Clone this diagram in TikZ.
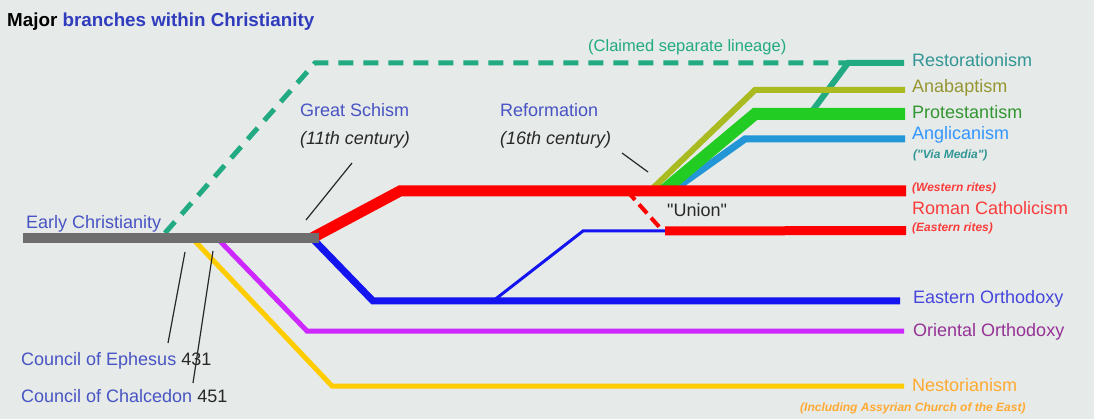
\documentclass[tikz,border=0pt]{standalone}
\usepackage{fontspec}
\setmainfont{Liberation Sans}[Ligatures=TeXOff]
\usepackage{tikz}
\usepackage{color}
\definecolor{bg}{RGB}{230,234,232}
\definecolor{txtblue}{RGB}{72,84,196}
\definecolor{ttlblue}{RGB}{48,60,190}
\definecolor{early}{RGB}{110,110,110}
\definecolor{rcred}{RGB}{255,0,0}
\definecolor{rclab}{RGB}{250,60,60}
\definecolor{eoblue}{RGB}{20,20,240}
\definecolor{eolab}{RGB}{70,70,220}
\definecolor{oopurp}{RGB}{204,40,255}
\definecolor{oolab}{RGB}{150,50,150}
\definecolor{nsyel}{RGB}{255,204,0}
\definecolor{nslab}{RGB}{255,170,50}
\definecolor{prgreen}{RGB}{34,204,34}
\definecolor{prlab}{RGB}{50,150,50}
\definecolor{anolive}{RGB}{170,187,34}
\definecolor{anlab}{RGB}{150,150,50}
\definecolor{agblue}{RGB}{34,150,215}
\definecolor{aglab}{RGB}{50,150,255}
\definecolor{rsgreen}{RGB}{34,170,130}
\definecolor{rslab}{RGB}{50,150,150}
\definecolor{pointer}{RGB}{40,40,40}

\begin{document}
\begin{tikzpicture}
[x=1pt,y=-1pt,line cap=butt,line join=miter,
 lab/.style={anchor=base west,inner sep=0pt,font=\fontsize{18}{20}\selectfont},
 note/.style={anchor=base west,inner sep=0pt,font=\fontsize{12}{14}\selectfont\bfseries\itshape},
 era/.style={anchor=base west,inner sep=0pt,font=\fontsize{18}{20}\selectfont\itshape,text=pointer},
 pointer/.style={draw=pointer,line width=1.2pt}]
\fill[bg] (0,0) rectangle (1094,419);
\useasboundingbox (0,0) rectangle (1094,419);

% title
\node[anchor=base west,inner sep=0pt,font=\fontsize{18.8}{21}\selectfont\bfseries] (title) at (7,27) {Major \textcolor{ttlblue}{branches within Christianity}};

% points of the branches
\coordinate (ec0) at (23,238); \coordinate (ec1) at (319,238);
\coordinate (ns0) at (192,238); \coordinate (ns1) at (332,386); \coordinate (ns2) at (904,386);
\coordinate (oo0) at (217,238); \coordinate (oo1) at (307,331); \coordinate (oo2) at (904,331);
\coordinate (gs0) at (312,238);
\coordinate (eo1) at (373,301); \coordinate (eo2) at (900,301);
\coordinate (un0) at (493,301); \coordinate (un1) at (583,231); \coordinate (un2) at (665,231);
\coordinate (wr1) at (400,191); \coordinate (wr2) at (906,191);
\coordinate (er1) at (906,230.5);
\coordinate (ud0) at (627,191); \coordinate (ud1) at (662,230);
\coordinate (an0) at (650,191); \coordinate (an1) at (755,90); \coordinate (an2) at (905,90);
\coordinate (pr0) at (663,191); \coordinate (pr1) at (755,114); \coordinate (pr2) at (905,114);
\coordinate (ag0) at (672,191); \coordinate (ag1) at (745,139); \coordinate (ag2) at (905,139);
\coordinate (rs0) at (810,114); \coordinate (rs1) at (848,63); \coordinate (rs2) at (904,63);
\coordinate (cl0) at (165,233); \coordinate (cl1) at (315,63); \coordinate (cl2) at (848,63);

% branches
\draw[nsyel,line width=5pt] (ns0) -- (ns1) -- (ns2);
\draw[oopurp,line width=5pt] (oo0) -- (oo1) -- (oo2);
\draw[eoblue,line width=3pt] (un0) -- (un1) -- (un2);
\draw[eoblue,line width=7pt] (gs0) -- (eo1) -- (eo2);
\draw[rsgreen,line width=5pt,dash pattern=on 15pt off 10pt] (cl0) -- (cl1) -- (cl2);
\draw[rsgreen,line width=6pt] (rs0) -- (rs1) -- (rs2);
\draw[anolive,line width=6pt] (an0) -- (an1) -- (an2);
\draw[agblue,line width=7pt] (ag0) -- (ag1) -- (ag2);
\draw[prgreen,line width=12pt] (pr0) -- (pr1) -- (pr2);
\draw[rcred,line width=11pt] (gs0) -- (wr1) -- (wr2);
\draw[rcred,line width=9pt] (un2) -- (er1);
\draw[rcred,line width=4pt,dash pattern=on 12pt off 6pt] (ud0) -- (ud1);
\draw[early,line width=10pt] (ec0) -- (ec1);

% labels
\node[lab,text=txtblue] (early) at (26,229) {Early Christianity};
\node[lab,text=rsgreen] (claim) at (588,52) {\fontsize{16.5}{18}\selectfont(Claimed separate lineage)};
\node[lab,text=rslab] (rest) at (912,67) {Restorationism};
\node[lab,text=anlab] (anab) at (912,93) {Anabaptism};
\node[lab,text=prlab] (prot) at (912,119) {Protestantism};
\node[lab,text=aglab] (angl) at (912,140) {Anglicanism};
\node[note,text=rslab] (via) at (913,159) {("Via Media")};
\node[note,text=rclab] (west) at (912,192) {(Western rites)};
\node[lab,text=rclab] (rcat) at (912,215) {Roman Catholicism};
\node[note,text=rclab] (east) at (912,232) {(Eastern rites)};
\node[lab,text=eolab] (eorth) at (913,304) {Eastern Orthodoxy};
\node[lab,text=oolab] (oorth) at (913,337) {Oriental Orthodoxy};
\node[lab,text=nslab] (nest) at (912,391) {Nestorianism};
\node[note,text=nslab] (assyr) at (800,411) {(Including Assyrian Church of the East)};
\node[lab,text=pointer] (union) at (667,217) {"Union"};

\node[lab,text=txtblue] (schism) at (300,117) {Great Schism};
\node[era] (c11) at (300,145) {(11th century)};
\node[lab,text=txtblue] (reform) at (500,117) {Reformation};
\node[era] (c16) at (500,145) {(16th century)};
\node[lab,text=txtblue] (ephes) at (21,365) {Council of Ephesus \textcolor{pointer}{431}};
\node[lab,text=txtblue] (chalc) at (21,402) {Council of Chalcedon \textcolor{pointer}{451}};

% pointers
\coordinate (p11) at (352,163); \coordinate (p11e) at (306,220);
\coordinate (p16) at (622,153); \coordinate (p16e) at (648,172);
\coordinate (p431) at (185,252); \coordinate (p431e) at (168,343);
\coordinate (p451) at (213,251); \coordinate (p451e) at (193,383);
\draw[pointer] (p11) -- (p11e); \draw[pointer] (p16) -- (p16e);
\draw[pointer] (p431) -- (p431e); \draw[pointer] (p451) -- (p451e);
\end{tikzpicture}
\end{document}
